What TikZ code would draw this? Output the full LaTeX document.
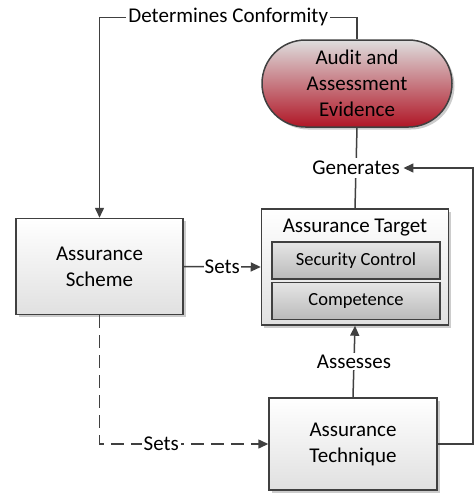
\documentclass[tikz,border=0pt]{standalone}
\usepackage{fontspec}
\setmainfont{Carlito}
\usetikzlibrary{arrows.meta,shadows,shapes.misc}
\definecolor{ln}{HTML}{404040}
\definecolor{redb}{RGB}{176,22,38}
\definecolor{pinkm}{RGB}{210,170,174}
\begin{document}
\begin{tikzpicture}[x=1pt,y=-1pt,
  every node/.style={font=\fontsize{21}{26}\selectfont, text=black},
  conn/.style={draw=ln, line width=1.5pt},
  arr/.style={conn, -{Triangle[length=10pt,width=9pt]}},
  lbl/.style={fill=white, inner sep=2pt},
  shad/.style={drop shadow={shadow xshift=2.5pt, shadow yshift=-2.5pt, opacity=0.2, fill=black}},
  whitebox/.style={draw=ln, line width=1.5pt, top color=white, bottom color=black!12, shad, align=center},
  innerbox/.style={draw=ln, line width=1.5pt, top color=black!10, bottom color=black!27, minimum width=168pt, minimum height=37pt, font=\fontsize{18.5}{22}\selectfont},
  pill/.style={rounded rectangle, draw=ln, line width=1.5pt, top color=black!13, middle color=pinkm, bottom color=redb, shad, align=center, minimum width=190pt, minimum height=87pt, inner sep=0pt}
]
\useasboundingbox (0,0) rectangle (475,493);
\node[pill] (audit) at (357,83.5) {Audit and\\Assessment\\Evidence};
\node[whitebox, minimum width=187pt, minimum height=116pt] (target) at (355,267) {};
\node (ttl) at (355,228) {Assurance Target};
\node[innerbox] (sec) at (356,260.5) {Security Control};
\node[innerbox] (comp) at (356,301) {Competence};
\node[whitebox, minimum width=167pt, minimum height=96pt] (scheme) at (99.5,266.5) {Assurance\\Scheme};
\node[whitebox, minimum width=168pt, minimum height=92pt] (tech) at (353,444) {Assurance\\Technique};

\draw[arr] (audit.north) -- ++(0,-22) -| node[pos=0.25, lbl]{Determines Conformity} (scheme.north);
\draw[conn] (audit.south) -- node[lbl, inner sep=3pt] (gen) {Generates} (target.north);
\draw[arr] (scheme.east) -- node[lbl, inner sep=1pt]{Sets} (target.west);
\draw[arr] (tech.north) -- node[lbl]{Assesses} (target.south);
\draw[arr] (tech.east) -- ++(35,0) |- (gen.east);
\draw[arr, dash pattern=on 13pt off 7pt] (scheme.south) |- node[pos=0.683, lbl]{Sets} (tech.west);
\end{tikzpicture}
\end{document}
